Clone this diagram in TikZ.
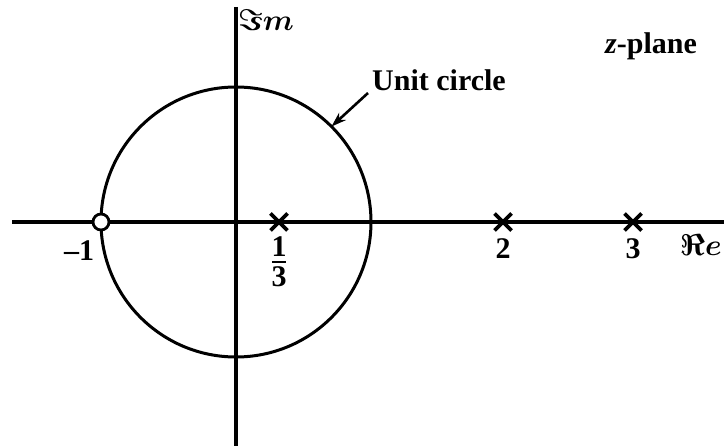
\documentclass[tikz,border=0pt]{standalone}
\usepackage{fix-cm}
\usepackage{amsmath,bm}
\usepackage{fontspec}
\setmainfont{Liberation Serif}
\usetikzlibrary{arrows.meta,calc}
\tikzset{
  axisline/.style={line width=3.6pt},
  circline/.style={line width=3.0pt},
  polemark/.style={line width=3.6pt},
  lbl/.style={font=\fontsize{30}{34}\selectfont\bfseries, inner sep=0pt},
  mathlbl/.style={font=\fontsize{30}{34}\selectfont\boldmath, inner sep=0pt},
}
\begin{document}
\begin{tikzpicture}[x=1pt,y=-1pt]
\useasboundingbox (0,0) rectangle (724,446);
\coordinate (O) at (236,222);
\coordinate (xl) at (12,222);
\coordinate (xr) at (724,222);
\coordinate (yt) at (236,7);
\coordinate (yb) at (236,446);
\draw[axisline] (xl) -- (xr);
\draw[axisline] (yt) -- (yb);
\draw[circline] (O) circle[radius=135];
% zero at -1
\node[draw, circle, fill=white, line width=2.8pt, minimum size=16pt, inner sep=0pt] (zero) at (101,222) {};
% poles
\foreach \n/\x in {p1/279, p2/503, p3/633}{
  \coordinate (\n) at (\x,222);
  \draw[polemark] ([shift={(-8.5,-8.5)}]\n) -- ([shift={(8.5,8.5)}]\n);
  \draw[polemark] ([shift={(-8.5,8.5)}]\n) -- ([shift={(8.5,-8.5)}]\n);
}
% labels
\node[lbl] (lm1) at (79,251) {\textendash 1};
\node[lbl] (l1) at (279,247) {1};
\node[lbl] (l3) at (279,277) {3};
\draw[line width=2.4pt] (272,262) -- (286,262);
\node[lbl] (l2) at (503,249) {2};
\node[lbl] (l3b) at (633,249) {3};
\node[mathlbl, anchor=east] (re) at (722,245) {$\Re e$};
\node[mathlbl] (im) at (266,20) {$\Im m$};
\node[lbl] (zp) at (651,46) {\textit{z}-plane};
\node[lbl] (uc) at (439,80) {Unit circle};
\coordinate (ct) at ($(O)+(-45:135)$);
\coordinate (at) at (368,93);
\draw[line width=2.6pt, -{Stealth[length=15pt,width=10pt]}] (at) -- (ct);
\end{tikzpicture}
\end{document}
